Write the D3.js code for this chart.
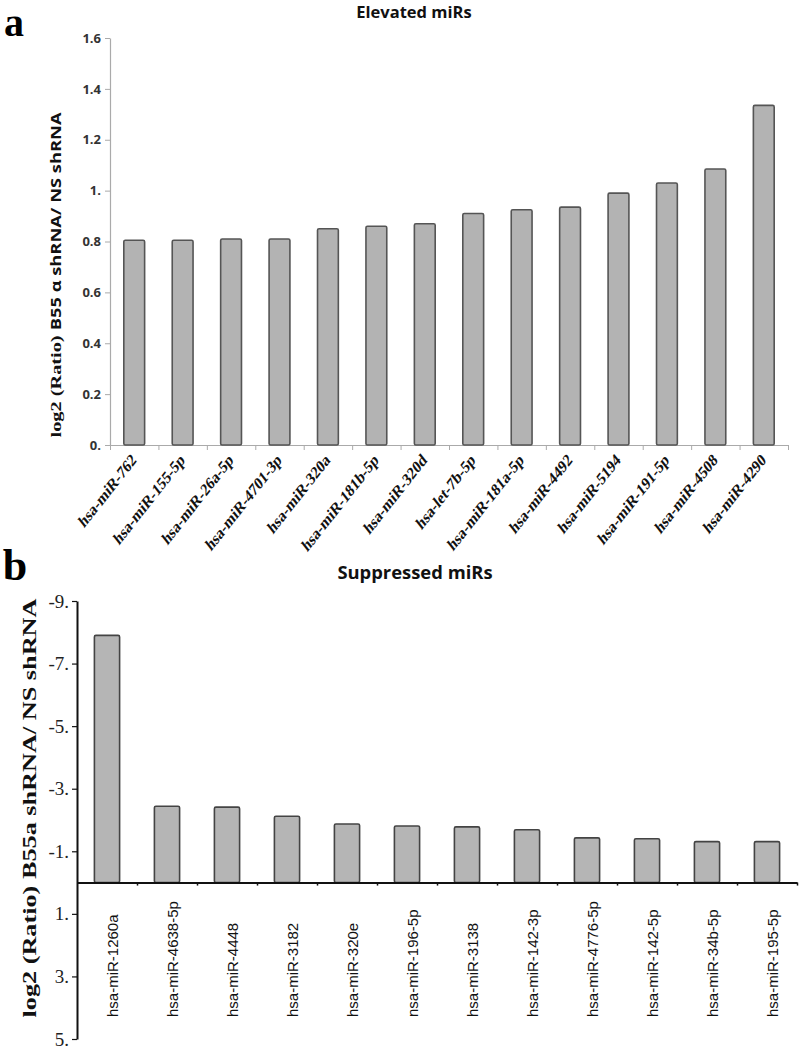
<!DOCTYPE html>
<html>
<head>
<meta charset="utf-8">
<script src="https://cdn.jsdelivr.net/npm/d3@7"></script>
<style>
  html, body { margin: 0; padding: 0; background: #fff; }
  svg { display: block; }
</style>
</head>
<body>
<svg id="chart" width="803" height="1050"></svg>
<script>
// ---------- Data ----------
const catsA = ["hsa-miR-762","hsa-miR-155-5p","hsa-miR-26a-5p","hsa-miR-4701-3p","hsa-miR-320a","hsa-miR-181b-5p","hsa-miR-320d","hsa-let-7b-5p","hsa-miR-181a-5p","hsa-miR-4492","hsa-miR-5194","hsa-miR-191-5p","hsa-miR-4508","hsa-miR-4290"];
const valsA = [0.805, 0.805, 0.81, 0.81, 0.85, 0.86, 0.87, 0.91, 0.925, 0.935, 0.99, 1.03, 1.085, 1.335];
const ticksA = [0, 0.2, 0.4, 0.6, 0.8, 1.0, 1.2, 1.4, 1.6];
const tickLabelsA = ["0.", "0.2", "0.4", "0.6", "0.8", "1.", "1.2", "1.4", "1.6"];

const catsB = ["hsa-miR-1260a","hsa-miR-4638-5p","hsa-miR-4448","hsa-miR-3182","hsa-miR-320e","nsa-miR-196-5p","hsa-miR-3138","hsa-miR-142-3p","hsa-miR-4776-5p","hsa-miR-142-5p","hsa-miR-34b-5p","hsa-miR-195-5p"];
const valsB = [-7.9, -2.44, -2.41, -2.12, -1.87, -1.81, -1.78, -1.69, -1.43, -1.40, -1.31, -1.31];
const ticksB = [-9, -7, -5, -3, -1, 1, 3, 5];
const tickLabelsB = ["-9.", "-7.", "-5.", "-3.", "-1.", "1.", "3.", "5."];

const svg = d3.select("#chart");

// ---------- Panel a ----------
const a = svg.append("g");
const xA = d3.scaleBand().domain(catsA).range([110, 788]).paddingInner(0.57).paddingOuter(0.285);
const xAEdges = d3.scaleLinear().domain([0, catsA.length]).range([110, 788]);
const yA = d3.scaleLinear().domain([0, 1.6]).range([445, 38]);

a.append("text").attr("x", 14).attr("y", 36)
  .attr("font-family", "Liberation Serif, serif").attr("font-weight", "bold")
  .attr("font-size", 40).attr("text-anchor", "middle").text("a");

a.append("text").attr("x", 414).attr("y", 18)
  .attr("font-family", "Open Sans, sans-serif").attr("font-weight", "bold")
  .attr("font-size", 16.5).attr("text-anchor", "middle").attr("fill", "#111").text("Elevated miRs");

// y axis
const yAxisA = a.append("g").attr("transform", "translate(110,0)")
  .call(d3.axisLeft(yA).tickValues(ticksA).tickFormat((d, i) => tickLabelsA[i]).tickSize(5).tickSizeOuter(0));
yAxisA.select(".domain").attr("stroke", "#aaa").attr("stroke-width", 1.2);
yAxisA.selectAll(".tick line").attr("stroke", "#aaa");
yAxisA.selectAll(".tick text").attr("font-family", "Open Sans, sans-serif").attr("font-weight", "bold")
  .attr("font-size", 13).attr("fill", "#333").attr("x", -9);

// x axis
const xAxisA = a.append("g").attr("transform", "translate(0,445)")
  .call(d3.axisBottom(xAEdges).tickValues(d3.range(0, catsA.length + 1)).tickFormat("").tickSize(5).tickSizeOuter(0));
xAxisA.select(".domain").attr("stroke", "#aaa").attr("stroke-width", 1.2);
xAxisA.selectAll(".tick line").attr("stroke", "#aaa");

// bars
a.selectAll("rect.bar").data(valsA).join("rect")
  .attr("class", "bar")
  .attr("x", (d, i) => xA(catsA[i]))
  .attr("width", xA.bandwidth())
  .attr("y", d => yA(d))
  .attr("height", d => yA(0) - yA(d))
  .attr("rx", 1.5)
  .attr("fill", "#b3b3b3").attr("stroke", "#555").attr("stroke-width", 1.6);

// x labels
a.selectAll("text.xl").data(catsA).join("text")
  .attr("class", "xl")
  .attr("transform", d => `translate(${xA(d) + xA.bandwidth() / 2 + 3},${461}) scale(1,1.27) rotate(-45)`)
  .attr("text-anchor", "end")
  .attr("font-family", "Liberation Serif, serif").attr("font-weight", "bold")
  .attr("font-size", 13.8).attr("fill", "#111").text(d => d);

// y label
const ylA = a.append("text")
  .attr("transform", "translate(61,275) rotate(-90)")
  .attr("text-anchor", "middle").attr("font-size", 15).attr("font-weight", "bold").attr("fill", "#111")
  .attr("textLength", 325).attr("lengthAdjust", "spacingAndGlyphs");
ylA.append("tspan").attr("font-family", "Liberation Serif, serif").text("log2 (Ratio) ");
ylA.append("tspan").attr("font-family", "Open Sans, sans-serif").attr("font-size", 13.5).text("B55 α shRNA/ NS shRNA");

// ---------- Panel b ----------
const b = svg.append("g");
const xB = d3.scaleBand().domain(catsB).range([77, 797]).paddingInner(0.58).paddingOuter(0.29);
const xBEdges = d3.scaleLinear().domain([0, catsB.length]).range([77, 797]);
const yB = d3.scaleLinear().domain([-9, 5]).range([601, 1039]);

b.append("text").attr("x", 15).attr("y", 580)
  .attr("font-family", "Liberation Serif, serif").attr("font-weight", "bold")
  .attr("font-size", 44).attr("text-anchor", "middle").text("b");

b.append("text").attr("x", 415).attr("y", 579)
  .attr("font-family", "Open Sans, sans-serif").attr("font-weight", "bold")
  .attr("font-size", 18.4).attr("text-anchor", "middle").attr("fill", "#111").text("Suppressed miRs");

// bars
b.selectAll("rect.bar").data(valsB).join("rect")
  .attr("class", "bar")
  .attr("x", (d, i) => xB(catsB[i]))
  .attr("width", xB.bandwidth())
  .attr("y", d => yB(Math.min(0, d)))
  .attr("height", d => Math.abs(yB(d) - yB(0)))
  .attr("rx", 1.5)
  .attr("fill", "#b5b5b5").attr("stroke", "#444").attr("stroke-width", 1.6);

// y axis
const yAxisB = b.append("g").attr("transform", "translate(77,0)")
  .call(d3.axisLeft(yB).tickValues(ticksB).tickFormat((d, i) => tickLabelsB[i]).tickSize(5).tickSizeOuter(0));
yAxisB.select(".domain").attr("stroke", "#111").attr("stroke-width", 2);
yAxisB.selectAll(".tick line").attr("stroke", "#111").attr("stroke-width", 1.2);
yAxisB.selectAll(".tick text").attr("font-family", "Liberation Serif, serif")
  .attr("font-size", 19).attr("fill", "#222").attr("x", -8);

// zero line
const xAxisB = b.append("g").attr("transform", `translate(0,${yB(0)})`)
  .call(d3.axisBottom(xBEdges).tickValues(d3.range(1, catsB.length + 1)).tickFormat("").tickSize(3).tickSizeOuter(0));
xAxisB.select(".domain").attr("stroke", "#111").attr("stroke-width", 2);
xAxisB.selectAll(".tick line").attr("stroke", "#111").attr("stroke-width", 1.5);

// x labels
b.selectAll("text.xl").data(catsB).join("text")
  .attr("class", "xl")
  .attr("transform", d => `translate(${xB(d) + xB.bandwidth() / 2 + 11},1017) rotate(-90)`)
  .attr("text-anchor", "start")
  .attr("font-family", "Liberation Sans, Arial, sans-serif")
  .attr("font-size", 15).attr("fill", "#111").text(d => d);

// y label
b.append("text")
  .attr("transform", "translate(36,808) rotate(-90)")
  .attr("text-anchor", "middle")
  .attr("font-family", "Liberation Serif, serif").attr("font-weight", "bold")
  .attr("font-size", 19.5).attr("fill", "#111")
  .attr("textLength", 419).attr("lengthAdjust", "spacingAndGlyphs")
  .text("log2 (Ratio) B55a shRNA/ NS shRNA");
</script>
</body>
</html>
